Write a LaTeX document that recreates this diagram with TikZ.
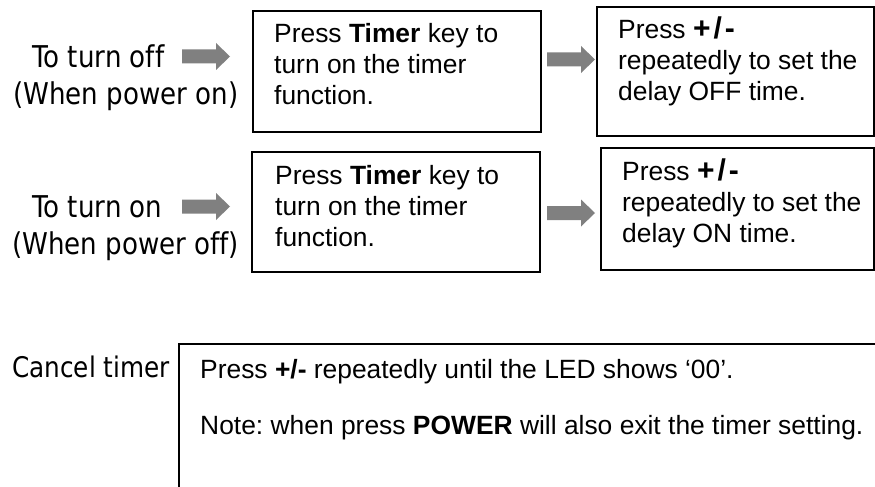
\documentclass[tikz,border=0pt]{standalone}
\usepackage{fontspec}
\setmainfont{Liberation Sans}
\newfontfamily\labfont[FakeStretch=0.87,Ligatures=NoCommon]{DejaVu Sans}
\definecolor{arrgray}{RGB}{128,128,128}
\tikzset{
  box/.style={draw=black, line width=1.3pt, inner sep=0pt, outer sep=0pt},
  cbox/.style={draw=black, line width=1.6pt, inner sep=0pt, outer sep=0pt},
  boxtxt/.style={anchor=base west, inner sep=0pt, font=\frenchspacing\fontsize{26.4}{31}\selectfont},
  lab/.style={anchor=base west, inner sep=0pt, font=\labfont\fontsize{30}{34}\selectfont},
  blockarrow/.pic={\fill[arrgray] (0,-7)--(34,-7)--(34,-13.5)--(48,0)--(34,13.5)--(34,7)--(0,7)--cycle;}
}
\newcommand{\pmsp}{{\fontsize{30}{31}\selectfont\textbf{+\kern3pt/\kern3pt-}}}
\begin{document}
\begin{tikzpicture}[x=1pt,y=-1pt]
\useasboundingbox (0,0) rectangle (875,487);
\clip (0,0) rectangle (875,487);
\fill[white] (0,0) rectangle (875,487);
% labels
\node[lab] (l1a) at (32,67) {To turn off};
\node[lab] (l1b) at (13,104) {(When power on)};
\node[lab] (l2a) at (32,217) {To turn on};
\node[lab] (l2b) at (12,254) {(When power off)};
\node[lab, font=\labfont\fontsize{28.4}{34}\selectfont] (l3) at (12,377) {Cancel timer};
% arrows
\pic at (182,56.5) {blockarrow};
\pic at (547,59.5) {blockarrow};
\pic at (182,206.5) {blockarrow};
\pic at (547,213) {blockarrow};
% boxes
\node[box, anchor=north west, minimum width=288pt, minimum height=121pt] (b1) at (253,11) {};
\node[box, anchor=north west, minimum width=277pt, minimum height=129pt] (b2) at (597,7) {};
\node[box, anchor=north west, minimum width=288pt, minimum height=120pt] (b3) at (252,152) {};
\node[box, anchor=north west, minimum width=273pt, minimum height=122pt] (b4) at (601,148) {};
\node[cbox, anchor=north west, minimum width=760pt, minimum height=200pt] (cb) at (179,344) {};
% box texts
\node[boxtxt] (t1) at (274,43) {\parbox[t]{265pt}{\raggedright Press \textbf{Timer} key to\\turn on the timer\\function.}};
\node[boxtxt] (t2) at (618,39) {\parbox[t]{255pt}{\raggedright Press \pmsp\\repeatedly to set the\\delay OFF time.}};
\node[boxtxt] (t3) at (275,184) {\parbox[t]{265pt}{\raggedright Press \textbf{Timer} key to\\turn on the timer\\function.}};
\node[boxtxt] (t4) at (622,180) {\parbox[t]{250pt}{\raggedright Press \pmsp\\repeatedly to set the\\delay ON time.}};
\node[boxtxt] (c1) at (200,378) {Press \textbf{+/-} repeatedly until the LED shows ‘00’.};
\node[boxtxt] (c2) at (200,434) {Note: when press \textbf{POWER} will also exit the timer setting.};
\end{tikzpicture}
\end{document}
